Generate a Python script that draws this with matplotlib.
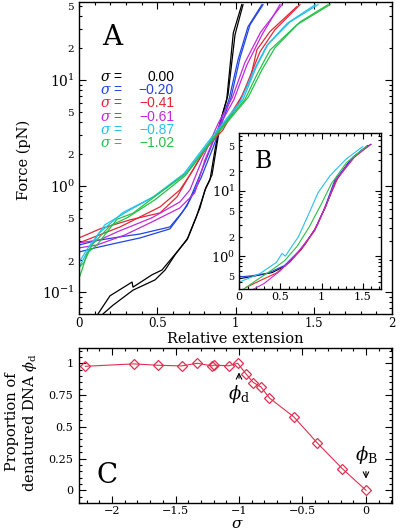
import matplotlib
matplotlib.use('Agg')
import matplotlib.pyplot as plt
from matplotlib.ticker import LogLocator, FuncFormatter, MultipleLocator, FixedLocator
import numpy as np

plt.rcParams['font.family'] = 'DejaVu Serif'
plt.rcParams['mathtext.fontset'] = 'dejavuserif'

# ---------- panel A : force vs relative extension (two branches per curve)
blk_a_x = [0.121, 0.198, 0.339, 0.345, 0.466, 0.530, 0.594, 0.690, 0.741, 0.773, 0.805, 0.837, 0.869, 0.901, 0.944, 0.986, 1.04]
blk_a_f = [0.062, 0.092, 0.124, 0.111, 0.145, 0.161, 0.209, 0.31, 0.478, 0.62, 0.916, 1.14, 2.19, 3.93, 6.5, 27.6, 51]
blk_b_x = [0.153, 0.217, 0.345, 0.486, 0.550, 0.613, 0.696, 0.748, 0.811, 0.850, 0.907, 0.952, 0.997, 1.048]
blk_b_f = [0.062, 0.075, 0.104, 0.130, 0.161, 0.223, 0.323, 0.50, 0.96, 1.27, 4.2, 7.2, 26.6, 51]

blu_a_x = [0.0, 0.102, 0.217, 0.390, 0.581, 0.645, 0.690, 0.760, 0.837, 0.958, 1.016, 1.08, 1.169]
blu_a_f = [0.277, 0.303, 0.323, 0.352, 0.41, 0.532, 0.647, 1.14, 2.19, 6.47, 15.4, 31.6, 51]
blu_b_x = [0.0, 0.102, 0.217, 0.390, 0.581, 0.658, 0.709, 0.780, 0.856, 0.971, 1.029, 1.093, 1.176]
blu_b_f = [0.238, 0.26, 0.284, 0.323, 0.393, 0.556, 0.738, 1.19, 2.28, 6.76, 16.1, 33, 51]

red_a_x = [0.0, 0.134, 0.326, 0.518, 0.626, 0.690, 0.805, 0.920, 1.029, 1.093, 1.137, 1.220, 1.393]
red_a_f = [0.323, 0.393, 0.478, 0.556, 0.787, 1.14, 2.19, 3.37, 6.47, 10, 19.2, 28.4, 49]
red_b_x = [0.0, 0.262, 0.518, 0.645, 0.722, 0.824, 0.939, 1.042, 1.105, 1.157, 1.252, 1.412]
red_b_f = [0.29, 0.41, 0.634, 0.916, 1.36, 2.44, 4.02, 7.07, 11.9, 18.4, 29.6, 51]

mag_a_x = [0.0, 0.115, 0.294, 0.466, 0.645, 0.740, 0.805, 0.901, 0.990, 1.073, 1.169, 1.284]
mag_a_f = [0.26, 0.277, 0.345, 0.457, 0.62, 0.86, 1.76, 3.76, 6.5, 13.8, 26.5, 51]
mag_b_x = [0.0, 0.134, 0.243, 0.466, 0.645, 0.709, 0.792, 0.890, 0.980, 1.060, 1.160, 1.297]
mag_b_f = [0.29, 0.31, 0.368, 0.50, 0.706, 0.916, 1.84, 3.9, 6.8, 14.5, 28, 51]

cya_a_x = [0.0, 0.058, 0.166, 0.326, 0.498, 0.690, 0.869, 1.048, 1.135, 1.208, 1.348, 1.527]
cya_a_f = [0.19, 0.26, 0.43, 0.594, 0.822, 1.36, 3.03, 6.5, 13.4, 21.6, 35, 51]
cya_b_x = [0.0, 0.040, 0.130, 0.280, 0.470, 0.670, 0.850, 1.030, 1.120, 1.200, 1.330, 1.510]
cya_b_f = [0.17, 0.22, 0.36, 0.56, 0.78, 1.3, 2.9, 6.2, 12.5, 21, 34, 51]

grn_a_x = [0.0, 0.019, 0.038, 0.051, 0.115, 0.243, 0.345, 0.498, 0.690, 0.882, 1.060, 1.137, 1.220, 1.393, 1.604]
grn_a_f = [0.135, 0.161, 0.20, 0.232, 0.277, 0.485, 0.552, 0.822, 1.32, 3.14, 6.5, 11.2, 19, 33, 51]
grn_b_x = [0.0, 0.032, 0.083, 0.198, 0.307, 0.486, 0.677, 0.869, 1.080, 1.169, 1.252, 1.412, 1.591]
grn_b_f = [0.17, 0.19, 0.277, 0.42, 0.50, 0.74, 1.24, 2.9, 6.8, 12.4, 20, 35, 51]

sigma_labels = ['0.00', '\u22120.20', '\u22120.41', '\u22120.61', '\u22120.87', '\u22121.02']
colors = ['black', '#2244e0', '#e02838', '#c02ad8', '#28c0e8', '#28c048']

# ---------- panel B : rescaled curves
ins_blk_x = [0.0, 0.2, 0.4, 0.55, 0.75, 0.92, 1.05, 1.17, 1.35, 1.52, 1.6]
ins_blk_f = [0.45, 0.5, 0.56, 0.7, 1.25, 2.6, 5.8, 14, 30, 45, 52]
ins_blu_x = [0.0, 0.15, 0.35, 0.55, 0.74, 0.92, 1.04, 1.16, 1.38, 1.56]
ins_blu_f = [0.48, 0.5, 0.55, 0.72, 1.25, 2.5, 5.6, 14.5, 33, 50]
ins_red_x = [0.08, 0.25, 0.45, 0.62, 0.8, 0.95, 1.08, 1.2, 1.4, 1.58]
ins_red_f = [0.33, 0.42, 0.55, 0.82, 1.5, 3.0, 7.2, 16, 33, 50]
ins_mag_x = [0.17, 0.3, 0.5, 0.7, 0.9, 1.05, 1.17, 1.4, 1.6]
ins_mag_f = [0.31, 0.38, 0.6, 1.1, 2.3, 5.7, 14.5, 34, 52]
ins_cya_x = [0.0, 0.1, 0.25, 0.45, 0.52, 0.56, 0.62, 0.72, 0.82, 0.96, 1.1, 1.3, 1.5]
ins_cya_f = [0.4, 0.45, 0.54, 0.8, 1.1, 1.0, 1.3, 2.0, 3.8, 9.5, 17, 31, 48]
ins_grn_x = [0.05, 0.2, 0.4, 0.55, 0.7, 0.85, 1.0, 1.12, 1.3, 1.55]
ins_grn_f = [0.31, 0.42, 0.62, 0.85, 1.4, 2.8, 6.4, 13, 27, 49]

# ---------- panel C : fraction of denatured DNA
sigma = [-2.21, -1.83, -1.64, -1.45, -1.33, -1.21, -1.2, -1.08, -1.01, -0.947, -0.887, -0.827, -0.761, -0.567, -0.383, -0.187, 0.0]
phi_d = [0.976, 0.995, 0.984, 0.979, 1.0, 0.979, 0.985, 0.98, 1.0, 0.919, 0.848, 0.814, 0.727, 0.577, 0.372, 0.171, 0.0]

W, H = 400, 531
def fx(p): return p / W
def fy(p): return 1 - p / H

fig = plt.figure(figsize=(4, 5.31), dpi=100)

def minor_log_fmt(v, pos):
    e = np.floor(np.log10(v) + 1e-9)
    d = int(round(v / 10 ** e))
    if d in (2, 5):
        return r'$\mathit{%d}$' % d
    return ''

def style_log_y(ax, major_size, minor_size):
    ax.yaxis.set_major_locator(LogLocator(base=10, numticks=10))
    ax.yaxis.set_minor_locator(LogLocator(base=10, subs=np.arange(2, 10), numticks=20))
    ax.yaxis.set_minor_formatter(FuncFormatter(minor_log_fmt))
    ax.tick_params(axis='y', which='major', labelsize=major_size, pad=3)
    ax.tick_params(axis='y', which='minor', labelsize=minor_size, pad=3)

def num_fmt(v, pos):
    s = ('%g' % v).replace('-', '\u2212')
    return s

# panel A
axA = fig.add_axes([fx(79), fy(314), 313 / W, 312 / H])
branches = [(blk_a_x, blk_a_f, blk_b_x, blk_b_f), (blu_a_x, blu_a_f, blu_b_x, blu_b_f),
            (red_a_x, red_a_f, red_b_x, red_b_f), (mag_a_x, mag_a_f, mag_b_x, mag_b_f),
            (cya_a_x, cya_a_f, cya_b_x, cya_b_f), (grn_a_x, grn_a_f, grn_b_x, grn_b_f)]
for (xa, fa, xb, fb), c in zip(branches, colors):
    axA.plot(xa, fa, color=c, lw=0.9)
    axA.plot(xb, fb, color=c, lw=0.9)
axA.set_yscale('log')
axA.set_xlim(0, 2)
axA.set_ylim(0.062, 54)
style_log_y(axA, 10, 7.5)
axA.xaxis.set_major_locator(MultipleLocator(0.5))
axA.xaxis.set_minor_locator(MultipleLocator(0.1))
axA.xaxis.set_major_formatter(FuncFormatter(num_fmt))
axA.tick_params(axis='x', labelsize=8.5, pad=2)
axA.tick_params(which='both', direction='in', top=True, right=True, width=0.8)
axA.tick_params(which='major', length=5)
axA.tick_params(which='minor', length=2.5)
axA.text(0.105, 0.885, 'A', transform=axA.transAxes, fontsize=20, ha='center', va='center')

rows = [77, 90, 103, 117, 130, 143]
for r, lab, c in zip(rows, sigma_labels, colors):
    fig.text(fx(100), fy(r), r'$\sigma$ =', color=c, fontsize=10, va='center', ha='left',
             family='Liberation Sans')
    fig.text(fx(174), fy(r), lab, color=c, fontsize=10, va='center', ha='right',
             family='Liberation Sans')

fig.text(fx(24), fy(160), 'Force (pN)', rotation=90, fontsize=10.5, ha='center', va='center')
fig.text(fx(235), fy(339), 'Relative extension', fontsize=10.5, ha='center', va='center')

# panel B inset
axB = fig.add_axes([fx(239.3), fy(289.3), 141.4 / W, 156 / H])
axB.set_facecolor('white')
ins = [(ins_blk_x, ins_blk_f), (ins_blu_x, ins_blu_f), (ins_red_x, ins_red_f),
       (ins_mag_x, ins_mag_f), (ins_cya_x, ins_cya_f), (ins_grn_x, ins_grn_f)]
for (xi, fi), c in zip(ins, colors):
    axB.plot(xi, fi, color=c, lw=0.8)
axB.set_yscale('log')
axB.set_xlim(0, 1.72)
axB.set_ylim(0.31, 77)
style_log_y(axB, 9.5, 7)
axB.xaxis.set_major_locator(MultipleLocator(0.5))
axB.xaxis.set_minor_locator(MultipleLocator(0.1))
axB.xaxis.set_major_formatter(FuncFormatter(num_fmt))
axB.tick_params(axis='x', labelsize=8, pad=2)
axB.tick_params(which='both', direction='in', top=True, right=True, width=0.8)
axB.tick_params(which='major', length=4)
axB.tick_params(which='minor', length=2)
axB.text(0.17, 0.82, 'B', transform=axB.transAxes, fontsize=17, ha='center', va='center')

# panel C
axC = fig.add_axes([fx(79), fy(503), 313 / W, 155 / H])
red = '#e03050'
axC.plot(sigma, phi_d, color=red, lw=0.8, marker='D', ms=5, mfc='none', mec=red, mew=0.9)
axC.set_xlim(-2.26, 0.205)
axC.set_ylim(-0.1, 1.12)
axC.xaxis.set_major_locator(MultipleLocator(0.5))
axC.xaxis.set_minor_locator(MultipleLocator(0.1))
axC.yaxis.set_major_locator(FixedLocator([0, 0.25, 0.5, 0.75, 1]))
axC.yaxis.set_minor_locator(MultipleLocator(0.05))
axC.xaxis.set_major_formatter(FuncFormatter(num_fmt))
axC.yaxis.set_major_formatter(FuncFormatter(num_fmt))
axC.tick_params(labelsize=8, pad=2)
axC.tick_params(axis='y', pad=4)
axC.tick_params(which='both', direction='in', top=True, right=True, width=0.8)
axC.tick_params(which='major', length=5)
axC.tick_params(which='minor', length=2.5)
axC.text(-2.04, 0.12, 'C', fontsize=20, ha='center', va='center')
axC.annotate('', xy=(-1.0, 0.95), xytext=(-1.0, 0.86),
             arrowprops=dict(arrowstyle='->', lw=0.8, color='black'))
axC.text(-1.0, 0.76, r'$\phi_\mathrm{d}$', fontsize=13, ha='center', va='center')
axC.annotate('', xy=(0.0, 0.07), xytext=(0.0, 0.17),
             arrowprops=dict(arrowstyle='->', lw=0.8, color='black'))
axC.text(0.0, 0.28, r'$\phi_\mathrm{B}$', fontsize=13, ha='center', va='center')
fig.text(fx(237), fy(531), r'$\sigma$', fontsize=11, ha='center', va='bottom')
fig.text(fx(22), fy(422), 'Proportion of\ndenatured DNA ' + r'$\phi_\mathrm{d}$', rotation=90,
         fontsize=10.5, ha='center', va='center', linespacing=1.2)

for ax in (axA, axB, axC):
    for s in ax.spines.values():
        s.set_linewidth(1.0)

fig.savefig('out.png', dpi=100)
